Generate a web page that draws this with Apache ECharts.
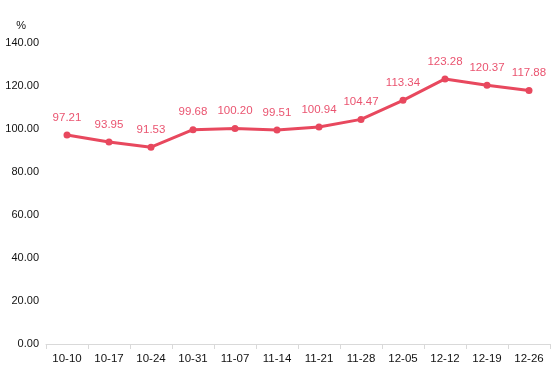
<!DOCTYPE html>
<html><head><meta charset="utf-8">
<script src="https://cdn.jsdelivr.net/npm/echarts@6/dist/echarts.min.js"></script>
<style>html,body{margin:0;padding:0;background:#fff}#c{width:554px;height:372px}</style>
</head><body><div id="c"></div>
<script>
const categories = ['10-10','10-17','10-24','10-31','11-07','11-14','11-21','11-28','12-05','12-12','12-19','12-26'];
const values = [97.21, 93.95, 91.53, 99.68, 100.20, 99.51, 100.94, 104.47, 113.34, 123.28, 120.37, 117.88];
const yMin = 0, yMax = 140, yStep = 20;
const FONT = '"Liberation Sans", Arial, sans-serif';
const chart = echarts.init(document.getElementById('c'));
chart.setOption({
  animation: false,
  grid: {left: 46, right: 4, top: 43, bottom: 28, containLabel: false},
  xAxis: {
    type: 'category', data: categories, boundaryGap: true,
    axisLine: {lineStyle: {color: '#d9d9d9', width: 1}},
    axisTick: {show: true, lineStyle: {color: '#d9d9d9'}, length: 5},
    axisLabel: {color: '#111', fontSize: 11.5, margin: 9, fontFamily: FONT, interval: 0}
  },
  yAxis: {
    type: 'value', min: yMin, max: yMax, interval: yStep,
    name: '%', nameGap: 12, nameTextStyle: {color: '#111', fontSize: 11, fontFamily: FONT, align: 'right', padding: [0, 20, 0, 0]},
    axisLine: {show: false}, axisTick: {show: false}, splitLine: {show: false},
    axisLabel: {color: '#111', fontSize: 11, margin: 7, fontFamily: FONT,
      formatter: v => v.toFixed(2)}
  },
  series: [{
    type: 'line', data: values,
    symbol: 'circle', symbolSize: 7,
    lineStyle: {color: '#e8485e', width: 3},
    itemStyle: {color: '#e8485e'},
    label: {show: true, position: 'top', distance: 8, color: '#ea5470', fontSize: 11.5,
      fontFamily: FONT, formatter: p => p.value.toFixed(2)}
  }]
});
</script></body></html>
